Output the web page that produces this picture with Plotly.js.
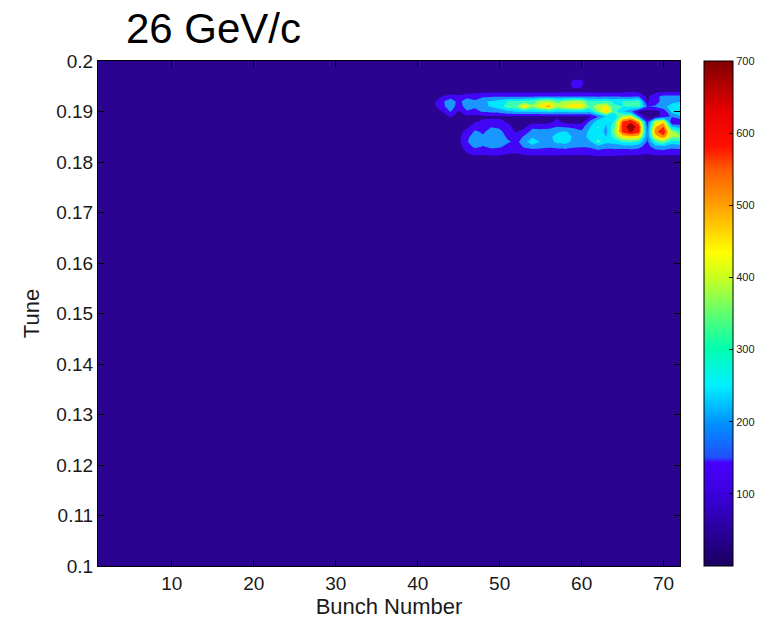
<!DOCTYPE html>
<html>
<head>
<meta charset="utf-8">
<script src="https://cdn.plot.ly/plotly-3.0.1.min.js"></script>
<style>
html,body{margin:0;padding:0;background:#fff;}
#chart{width:762px;height:621px;}
</style>
</head>
<body>
<div id="chart"></div>
<script>
// Bunch numbers (x) and tune values (y) of the measured grid
const bunches = [1, 40, 41, 42, 43, 44, 45, 46, 47, 48, 49, 50, 51, 52, 53, 54, 55, 56,
  57, 58, 59, 60, 61, 62, 63, 64, 65, 66, 67, 68, 69, 70, 71, 72];
const tunes = [0.1, 0.179, 0.180, 0.181, 0.182, 0.183, 0.184, 0.185, 0.186, 0.187, 0.188,
  0.189, 0.190, 0.191, 0.192, 0.193, 0.194, 0.195, 0.196, 0.197, 0.198, 0.2];

// Amplitude per bunch: one column per bunch, values along the tune axis (ascending)
const amp_b1  = [20,20,20,20,20,20,20,20,20,20,20,20,20,20,20,20,20,20,20,20,20,20];
const amp_b40 = [20,20,20,20,20,20,20,20,20,20,20,20,20,20,20,20,20,20,20,20,20,20];
const amp_b41 = [20,20,20,20,20,20,20,20,20,20,20,20,20,30,30,20,20,20,20,20,20,20];
const amp_b42 = [20,20,20,20,20,20,20,20,20,20,20,20,35,60,62,35,20,20,20,20,20,20];
const amp_b43 = [20,20,20,20,20,20,20,20,20,20,20,35,70,115,120,70,35,20,20,20,20,20];
const amp_b44 = [20,20,20,20,20,20,20,20,20,20,20,80,145,190,205,95,35,20,20,20,20,20];
const amp_b45 = [20,20,20,20,25,40,50,55,40,20,20,35,65,100,105,80,35,20,20,20,20,20];
const amp_b46 = [20,20,20,45,75,110,135,125,95,55,25,60,130,175,200,100,40,20,20,20,20,20];
const amp_b47 = [20,20,30,60,100,155,180,170,150,115,65,50,120,150,150,110,45,20,20,20,20,20];
const amp_b48 = [20,20,30,55,95,135,160,150,130,115,78,60,150,200,205,125,50,20,20,20,20,20];
const amp_b49 = [20,20,30,60,100,160,190,190,170,135,82,60,160,215,215,130,50,20,20,20,20,20];
const amp_b50 = [20,20,30,58,98,150,180,180,160,125,82,62,170,250,240,130,50,20,20,20,20,20];
const amp_b51 = [20,20,25,50,85,115,150,125,105,92,62,62,200,320,280,130,50,20,20,20,20,20];
const amp_b52 = [20,20,25,45,80,100,125,95,65,42,30,58,215,330,290,130,50,20,20,20,20,20];
const amp_b53 = [20,20,25,55,95,150,170,150,95,55,30,58,220,480,300,130,50,20,20,20,20,20];
const amp_b54 = [20,20,25,58,100,170,280,190,170,120,40,58,225,360,310,130,50,20,20,20,20,20];
const amp_b55 = [20,20,25,58,100,160,200,180,160,120,35,62,230,450,380,135,50,20,20,20,20,20];
const amp_b56 = [20,20,25,58,98,150,180,190,170,120,40,62,240,520,400,135,50,20,20,20,20,20];
const amp_b57 = [20,20,25,58,100,160,230,240,200,140,90,62,225,380,330,130,50,20,20,20,20,20];
const amp_b58 = [20,20,25,55,98,170,240,250,220,130,40,58,230,430,360,130,55,20,20,20,20,20];
const amp_b59 = [20,20,25,55,95,150,190,200,180,120,35,58,240,460,390,135,55,85,90,30,20,20];
const amp_b60 = [20,20,25,55,95,145,170,160,150,110,40,62,240,460,380,135,55,75,85,30,20,20];
const amp_b61 = [20,20,25,58,100,150,200,250,230,200,150,62,230,320,290,135,50,20,20,20,20,20];
const amp_b62 = [20,20,25,65,115,180,310,260,270,290,250,140,350,400,290,130,50,20,20,20,20,20];
const amp_b63 = [20,20,25,60,110,160,230,210,180,200,220,220,500,440,300,135,50,20,20,20,20,20];
const amp_b64 = [20,20,25,60,110,165,240,310,360,330,290,220,300,290,270,135,50,20,20,20,20,20];
const amp_b65 = [20,20,25,58,100,170,290,450,580,590,560,380,220,280,280,130,50,20,20,20,20,20];
const amp_b66 = [20,20,25,58,100,180,300,480,640,680,620,420,160,290,290,130,65,20,20,20,20,20];
const amp_b67 = [20,20,25,55,95,160,270,460,590,590,500,150,40,320,310,135,50,20,20,20,20,20];
const amp_b68 = [20,20,25,50,85,110,130,140,140,130,95,30,30,140,60,55,40,20,20,20,20,20];
const amp_b69 = [20,20,25,55,100,180,300,450,540,480,390,50,50,150,100,125,45,20,20,20,20,20];
const amp_b70 = [20,20,25,58,110,190,350,540,610,560,460,90,90,190,180,155,55,20,20,20,20,20];
const amp_b71 = [20,20,25,55,95,160,250,360,380,220,60,150,230,240,190,155,55,20,20,20,20,20];
const amp_b72 = [20,20,25,55,100,170,270,360,300,180,80,200,260,280,200,155,55,20,20,20,20,20];

const ampColumns = [amp_b1, amp_b40, amp_b41, amp_b42, amp_b43, amp_b44, amp_b45, amp_b46,
  amp_b47, amp_b48, amp_b49, amp_b50, amp_b51, amp_b52, amp_b53, amp_b54, amp_b55, amp_b56,
  amp_b57, amp_b58, amp_b59, amp_b60, amp_b61, amp_b62, amp_b63, amp_b64, amp_b65, amp_b66,
  amp_b67, amp_b68, amp_b69, amp_b70, amp_b71, amp_b72];

// Tick labels
const xTicks = [10, 20, 30, 40, 50, 60, 70];
const yTicks = [0.1, 0.11, 0.12, 0.13, 0.14, 0.15, 0.16, 0.17, 0.18, 0.19, 0.2];
const yTickText = ['0.1','0.11','0.12','0.13','0.14','0.15','0.16','0.17','0.18','0.19','0.2'];
const cbTicks = [100, 200, 300, 400, 500, 600, 700];

// Colours of the filled contour bands (below 70, 70-140, ... , above 630)
const bandColors = ['#2a0391','#4006f5','#1a96ff','#00e6ff','#3cffb4','#b4ff3c','#ffee00','#ff8c00','#ff1a00','#a00000'];
const bandScale = bandColors.map((c, i) => [i / (bandColors.length - 1), c]);

// Continuous colour bar scale
const barScale = [
  [0, '#1a0060'], [0.143, '#3a00dc'], [0.205, '#4800ff'], [0.215, '#2050ff'],
  [0.286, '#0095ff'], [0.357, '#00f0ff'], [0.43, '#00ffb0'], [0.5, '#60ff70'],
  [0.571, '#c8ff20'], [0.62, '#ffff00'], [0.714, '#ffa000'], [0.786, '#ff5a00'],
  [0.83, '#ff1000'], [0.9, '#e80000'], [1, '#800000']
];

const bar = {
  type: 'heatmap', x: bunches, y: tunes, z: ampColumns, transpose: true,
  zmin: 0, zmax: 700, colorscale: barScale, showscale: true, hoverinfo: 'skip',
  colorbar: {
    x: 1.0412, xanchor: 'left', xpad: 0, y: 0.5, yanchor: 'middle', ypad: 0,
    len: 1, lenmode: 'fraction', thickness: 29, thicknessmode: 'pixels',
    outlinewidth: 1, outlinecolor: '#000', tickvals: cbTicks, ticks: 'inside',
    ticklen: 4, tickcolor: '#000', tickfont: {size: 11, color: '#1a1a1a'}
  }
};

const contour = {
  type: 'contour', x: bunches, y: tunes, z: ampColumns, transpose: true,
  autocontour: false,
  contours: {start: 70, end: 630, size: 70, coloring: 'fill', showlines: false},
  line: {width: 0, smoothing: 0}, colorscale: bandScale, showscale: false, hoverinfo: 'skip'
};

const layout = {
  width: 762, height: 621,
  margin: {l: 98, r: 82, t: 61, b: 55, pad: 0, autoexpand: false},
  paper_bgcolor: '#fff', plot_bgcolor: '#fff',
  font: {family: 'Liberation Sans, Arial, Helvetica, sans-serif', color: '#1a1a1a'},
  title: {text: '26 GeV/c', font: {size: 42, color: '#000'}, x: 0.048, xref: 'paper',
          xanchor: 'left', y: 0.955, yref: 'container', yanchor: 'middle'},
  xaxis: {
    range: [1, 72], tickvals: xTicks, ticks: 'inside', ticklen: 6, tickcolor: '#000',
    showline: true, linecolor: '#000', linewidth: 1, mirror: 'ticks',
    showgrid: false, zeroline: false, tickfont: {size: 19},
    title: {text: 'Bunch Number', font: {size: 22}, standoff: 2}
  },
  yaxis: {
    range: [0.1, 0.2], tickvals: yTicks, ticktext: yTickText, ticks: 'inside', ticklen: 6,
    tickcolor: '#000', showline: true, linecolor: '#000', linewidth: 1, mirror: 'ticks',
    showgrid: false, zeroline: false, tickfont: {size: 19},
    title: {text: 'Tune', font: {size: 22}, standoff: 10}
  }
};

Plotly.newPlot('chart', [bar, contour], layout, {displayModeBar: false, staticPlot: true});
</script>
</body>
</html>
